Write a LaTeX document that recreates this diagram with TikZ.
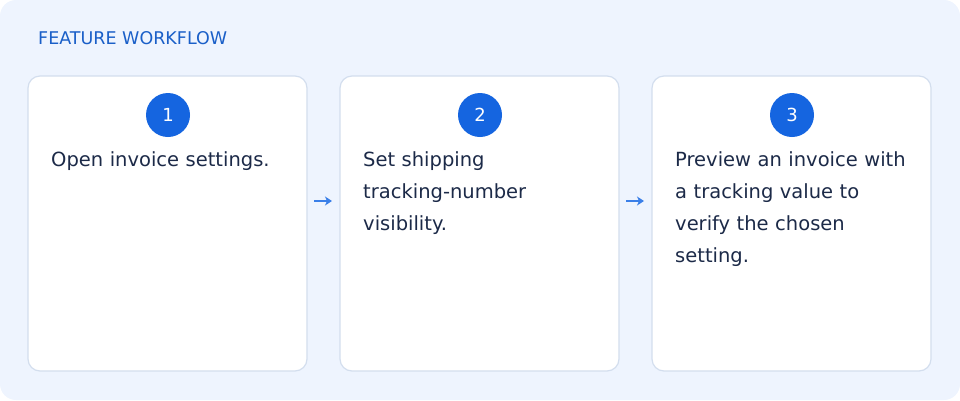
\documentclass[tikz,border=0pt]{standalone}
\usepackage{fontspec}
\usetikzlibrary{arrows.meta}
\setmainfont{DejaVu Sans}
\definecolor{bg}{HTML}{EEF4FE}
\definecolor{cardline}{HTML}{D3DEEE}
\definecolor{titleblue}{HTML}{1A5FC8}
\definecolor{badge}{HTML}{1565E0}
\definecolor{ink}{HTML}{1C2A48}
\definecolor{arrowblue}{HTML}{3A7FE8}
\begin{document}
\begin{tikzpicture}[x=1pt,y=-1pt,
  card/.style={draw=cardline,line width=1.2pt,fill=white,rounded corners=12pt},
  badge/.style={circle,fill=badge,minimum size=44pt,inner sep=0pt,text=white,font=\fontsize{18}{20}\selectfont},
  body/.style={anchor=north west,text=ink,align=left,text width=260pt,inner sep=0pt,font=\fontsize{19.5}{32}\selectfont},
  link/.style={draw=arrowblue,line width=1.4pt,-{Stealth[length=7pt,width=9pt,inset=2pt]}}]
\useasboundingbox (0,0) rectangle (960,400);
\fill[bg,rounded corners=16pt] (0,0) rectangle (960,400);
\node[anchor=west,text=titleblue,inner sep=0pt,font=\fontsize{17.5}{20}\selectfont] (title) at (38,38) {FEATURE WORKFLOW};
\foreach \i/\x in {1/28,2/340,3/652}{
  \draw[card] (\x,76) rectangle (\x+279,371);
  \node[badge] (b\i) at (\x+140,115) {\i};
}
\node[body] (t1) at (51,151) {Open invoice settings.};
\node[body] (t2) at (363,151) {Set shipping\\tracking-number\\visibility.};
\node[body] (t3) at (675,151) {Preview an invoice with\\a tracking value to\\verify the chosen\\setting.};
\coordinate (a1s) at (314,201); \coordinate (a1e) at (332,201);
\coordinate (a2s) at (626,201); \coordinate (a2e) at (644,201);
\draw[link] (a1s) -- (a1e);
\draw[link] (a2s) -- (a2e);
\end{tikzpicture}
\end{document}
